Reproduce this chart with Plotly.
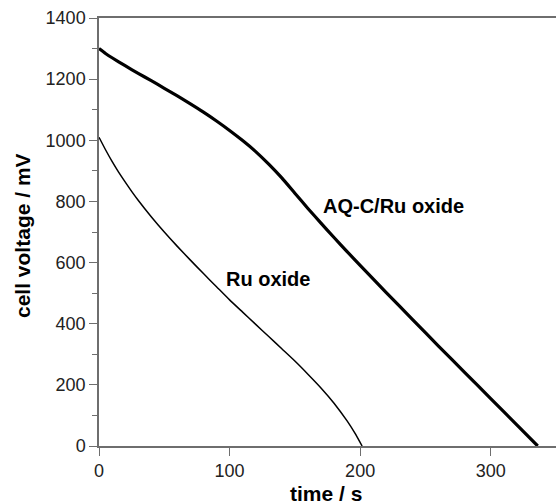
import plotly.graph_objects as go

# Ru oxide (thin line)
ru_t = [0, 5, 10, 15, 20, 25, 30, 40, 50, 60, 70, 80, 90, 100, 110, 120, 130, 140, 150, 160, 170, 180, 190, 196, 201.5]
ru_v = [1010, 969, 931, 896, 864, 833, 804, 750, 700, 653, 608, 564, 521, 478, 438, 398, 358, 318, 278, 235, 190, 140, 82, 42, 0]

# AQ-C/Ru oxide (thick line)
aq_t = [0, 5, 10, 20, 30, 40, 50, 60, 70, 80, 90, 100, 110, 120, 130, 140, 150, 160, 170, 180, 190, 200, 220, 240, 260, 280, 300, 320, 336]
aq_v = [1300, 1284, 1270, 1244, 1219, 1195, 1170, 1145, 1119, 1092, 1063, 1032, 999, 963, 922, 877, 827, 777, 729, 682, 636, 591, 502, 414, 327, 241, 155, 69, 0]

x_ticks = [0, 100, 200, 300]
y_ticks = [0, 200, 400, 600, 800, 1000, 1200, 1400]

fig = go.Figure()
fig.add_trace(go.Scatter(x=ru_t, y=ru_v, mode="lines",
                         line=dict(color="black", width=1.5, shape="spline", smoothing=0.5), name="Ru oxide"))
fig.add_trace(go.Scatter(x=aq_t, y=aq_v, mode="lines",
                         line=dict(color="black", width=3.2, shape="spline", smoothing=0.5), name="AQ-C/Ru oxide"))

axis_col = "#6e6e6e"
fig.update_layout(
    width=556, height=504,
    margin=dict(l=99, r=0, t=18, b=58, autoexpand=False),
    paper_bgcolor="white", plot_bgcolor="white",
    showlegend=False,
    font=dict(family="Liberation Sans, Arial, sans-serif", size=18, color="#222"),
    xaxis=dict(range=[0, 350], tickvals=x_ticks, ticks="outside", ticklen=8, tickcolor=axis_col, tickwidth=1.3,
               showline=True, linecolor=axis_col, linewidth=1.5, mirror=True, showgrid=False, zeroline=False,
               automargin=False, tickfont=dict(size=18, color="#222")),
    yaxis=dict(range=[0, 1400], tickvals=y_ticks, ticks="outside", ticklen=8, tickcolor=axis_col, tickwidth=1.3,
               showline=True, linecolor=axis_col, linewidth=1.5, mirror=True, showgrid=False, zeroline=False,
               automargin=False, tickfont=dict(size=18, color="#222"),
               minor=dict(dtick=100, ticks="outside", ticklen=5, tickcolor=axis_col, tickwidth=1.3, showgrid=False)),
    annotations=[
        dict(text="<b>time / s</b>", xref="paper", yref="paper", x=0.5, y=-58 / 428, yanchor="bottom", xanchor="center",
             showarrow=False, font=dict(size=21, color="black"), xshift=-2, yshift=-3),
        dict(text="<b>cell voltage / mV</b>", xref="paper", yref="paper", x=0, y=0.5, textangle=-90,
             xanchor="center", yanchor="middle", showarrow=False, font=dict(size=21, color="black"),
             xshift=-77, yshift=-4),
        dict(text="<b>AQ-C/Ru oxide</b>", x=225.8, y=785, xref="x", yref="y", showarrow=False,
             font=dict(size=20, color="black")),
        dict(text="<b>Ru oxide</b>", x=129.4, y=546, xref="x", yref="y", showarrow=False,
             font=dict(size=20, color="black")),
    ],
)

fig.write_html("out.html", config={"displayModeBar": False},
               post_script="document.body.style.margin='0';document.body.style.padding='0';document.body.style.overflow='hidden';")
